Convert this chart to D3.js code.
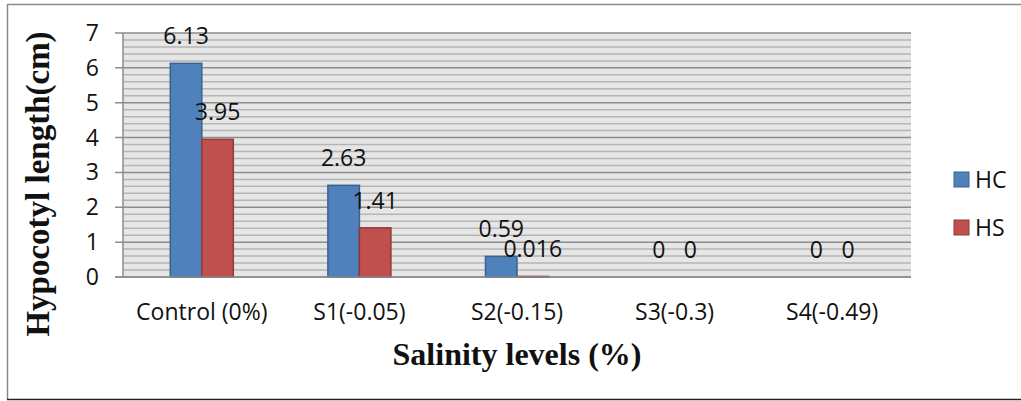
<!DOCTYPE html>
<html><head><meta charset="utf-8">
<script src="https://cdn.jsdelivr.net/npm/d3@7"></script>
<style>body{margin:0;background:#fff}svg{display:block}</style>
</head><body>
<script>
const categories = ["Control (0%)", "S1(-0.05)", "S2(-0.15)", "S3(-0.3)", "S4(-0.49)"];
const seriesNames = ["HC", "HS"];
const hcValues = [6.13, 2.63, 0.59, 0, 0];
const hsValues = [3.95, 1.41, 0.016, 0, 0];
const hcLabels = ["6.13", "2.63", "0.59", "0", "0"];
const hsLabels = ["3.95", "1.41", "0.016", "0", "0"];
const yTicks = [0, 1, 2, 3, 4, 5, 6, 7];
const xTitle = "Salinity levels (%)";
const yTitle = "Hypocotyl length(cm)";

const W = 1021, H = 401;
const colors = {HC: {fill: "#4f81bd", stroke: "#3a6290"}, HS: {fill: "#c0504d", stroke: "#8f3b39"}};
const svg = d3.select("body").append("svg").attr("width", W).attr("height", H);

// outer frame
svg.append("line").attr("x1", 7.5).attr("x2", 7.5).attr("y1", 4).attr("y2", 399).attr("stroke", "#8a8a8a").attr("stroke-width", 1.5);
svg.append("line").attr("x1", 7).attr("x2", W).attr("y1", 4.5).attr("y2", 4.5).attr("stroke", "#8a8a8a").attr("stroke-width", 1.5);
svg.append("line").attr("x1", 7).attr("x2", W).attr("y1", 399.5).attr("y2", 399.5).attr("stroke", "#222").attr("stroke-width", 1.5);

const m = {left: 123, right: 911, top: 33, bottom: 277};
const x = d3.scaleBand().domain(categories).range([m.left, m.right]).paddingInner(0).paddingOuter(0);
const y = d3.scaleLinear().domain([0, 7]).range([m.bottom, m.top]);

// plot background
svg.append("rect").attr("x", m.left).attr("y", m.top).attr("width", m.right - m.left).attr("height", m.bottom - m.top).attr("fill", "#e6e6e6");
// minor grid
const minor = d3.range(0, 7.0001, 0.2).filter(v => Math.abs(v - Math.round(v)) > 1e-6);
svg.append("g").selectAll("line").data(minor).join("line")
  .attr("x1", m.left).attr("x2", m.right).attr("y1", d => y(d)).attr("y2", d => y(d))
  .attr("stroke", "#b5b5b5").attr("stroke-width", 1.5);
// major grid
svg.append("g").selectAll("line").data(yTicks).join("line")
  .attr("x1", m.left - 8).attr("x2", m.right).attr("y1", d => y(d)).attr("y2", d => y(d))
  .attr("stroke", "#8c8c8c").attr("stroke-width", 1.5);
// y axis line
svg.append("line").attr("x1", m.left).attr("x2", m.left).attr("y1", m.top).attr("y2", m.bottom).attr("stroke", "#8c8c8c").attr("stroke-width", 1.5);

// y tick labels
svg.append("g").selectAll("text").data(yTicks).join("text")
  .attr("x", 99).attr("y", d => y(d)).attr("dy", "0.35em").attr("text-anchor", "end")
  .attr("font-family", "Open Sans").attr("font-size", 23).attr("fill", "#111").text(d => d);

// bars
const inner = d3.scaleBand().domain(seriesNames).range([0, x.bandwidth()]).paddingInner(0).paddingOuter(1.5);
const series = [{name: "HC", values: hcValues, labels: hcLabels}, {name: "HS", values: hsValues, labels: hsLabels}];
series.forEach(s => {
  const g = svg.append("g");
  g.selectAll("rect").data(categories).join("rect")
    .attr("x", (c) => x(c) + inner(s.name))
    .attr("width", inner.bandwidth())
    .attr("y", (c, i) => y(s.values[i]))
    .attr("height", (c, i) => y(0) - y(s.values[i]))
    .attr("fill", colors[s.name].fill).attr("stroke", colors[s.name].stroke).attr("stroke-width", 1.5);
  g.selectAll("text").data(categories).join("text")
    .attr("x", (c) => x(c) + inner(s.name) + inner.bandwidth() / 2)
    .attr("y", (c, i) => y(s.values[i]) - 19)
    .attr("text-anchor", "middle")
    .attr("font-family", "Open Sans").attr("font-size", 23).attr("fill", "#111")
    .text((c, i) => s.labels[i]);
});

// x axis line
svg.append("line").attr("x1", m.left - 8).attr("x2", m.right).attr("y1", m.bottom).attr("y2", m.bottom).attr("stroke", "#8c8c8c").attr("stroke-width", 1.5);

// category labels
svg.append("g").selectAll("text").data(categories).join("text")
  .attr("x", c => x(c) + x.bandwidth() / 2).attr("y", 320).attr("text-anchor", "middle")
  .attr("font-family", "Open Sans").attr("font-size", 23).attr("fill", "#111").text(c => c);

// axis titles
svg.append("text").attr("x", (m.left + m.right) / 2).attr("y", 365).attr("text-anchor", "middle")
  .attr("font-family", "Liberation Serif").attr("font-weight", "bold").attr("font-size", 32).attr("fill", "#111").text(xTitle);
svg.append("text").attr("transform", "translate(49,184) rotate(-90)").attr("text-anchor", "middle")
  .attr("font-family", "Liberation Serif").attr("font-weight", "bold").attr("font-size", 33).attr("fill", "#111").text(yTitle);

// legend
const leg = svg.append("g").selectAll("g").data(seriesNames).join("g")
  .attr("transform", (d, i) => `translate(954,${172 + i * 48})`);
leg.append("rect").attr("width", 15).attr("height", 15)
  .attr("fill", d => colors[d].fill).attr("stroke", d => colors[d].stroke).attr("stroke-width", 1);
leg.append("text").attr("x", 21).attr("y", 8).attr("dy", "0.35em")
  .attr("font-family", "Open Sans").attr("font-size", 23).attr("fill", "#111").text(d => d);
</script>
</body></html>
